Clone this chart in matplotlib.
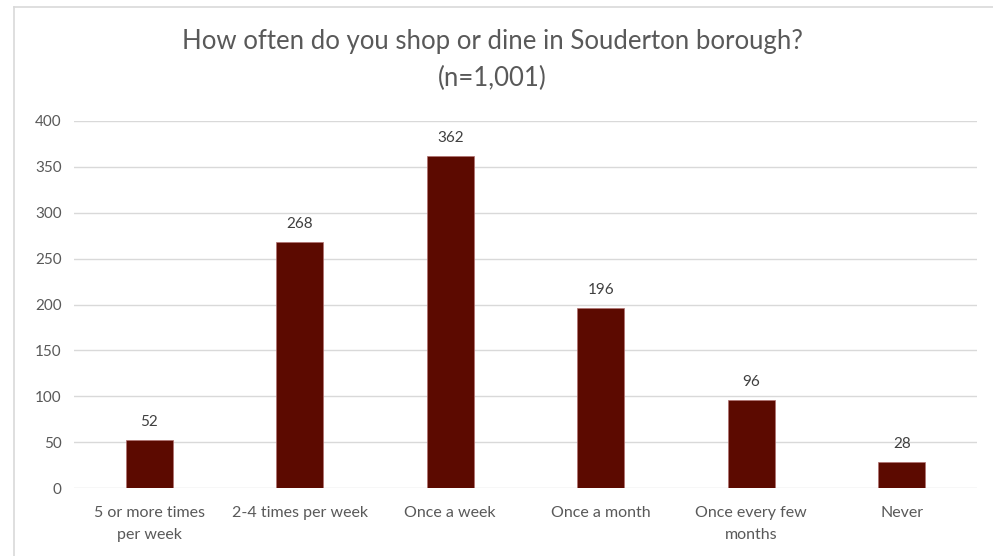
import matplotlib
matplotlib.use("Agg")
import matplotlib.pyplot as plt
from matplotlib.lines import Line2D

categories = ["5 or more times\nper week", "2-4 times per week", "Once a week",
              "Once a month", "Once every few\nmonths", "Never"]
counts = [52, 268, 362, 196, 96, 28]
y_ticks = [0, 50, 100, 150, 200, 250, 300, 350, 400]
title = "How often do you shop or dine in Souderton borough?\n(n=1,001)"

bar_color = "#5C0A00"
text_color = "#595959"
grid_color = "#D9D9D9"

plt.rcParams["font.family"] = ["Lato", "DejaVu Sans"]

fig = plt.figure(figsize=(9.93, 5.56), dpi=100)
ax = fig.add_axes([74 / 993, 1 - 488 / 556, 903 / 993, 367 / 556])

x = list(range(len(categories)))
ax.bar(x, counts, width=0.31, color=bar_color, edgecolor="#B07070", linewidth=0.5, zorder=3)
for xi, v in zip(x, counts):
    ax.annotate(str(v), (xi, v), xytext=(0, 8), textcoords="offset points",
                ha="center", va="bottom", fontsize=11, color="#404040")

ax.set_xlim(-0.5, len(categories) - 0.5)
ax.set_ylim(0, 400)
ax.set_yticks(y_ticks)
ax.set_xticks(x)
ax.set_xticklabels(categories, fontsize=11.5, color=text_color, linespacing=1.75)
ax.tick_params(axis="y", labelsize=11, labelcolor=text_color, length=0, pad=9)
ax.tick_params(axis="x", length=0, pad=13)
ax.grid(axis="y", color=grid_color, linewidth=1, zorder=0)
for s in ax.spines.values():
    s.set_visible(False)

fig.text(492 / 993, 1 - 60 / 556, title, ha="center", va="center",
         fontsize=18.5, color=text_color, linespacing=1.6)

# chart frame edges
fig.add_artist(Line2D([13.5 / 993, 1], [1 - 6.5 / 556, 1 - 6.5 / 556],
                      transform=fig.transFigure, color="#D9D9D9", linewidth=1.2))
fig.add_artist(Line2D([13.5 / 993, 13.5 / 993], [0, 1 - 6.5 / 556],
                      transform=fig.transFigure, color="#D9D9D9", linewidth=1.2))

fig.savefig("out.png", dpi=100)
